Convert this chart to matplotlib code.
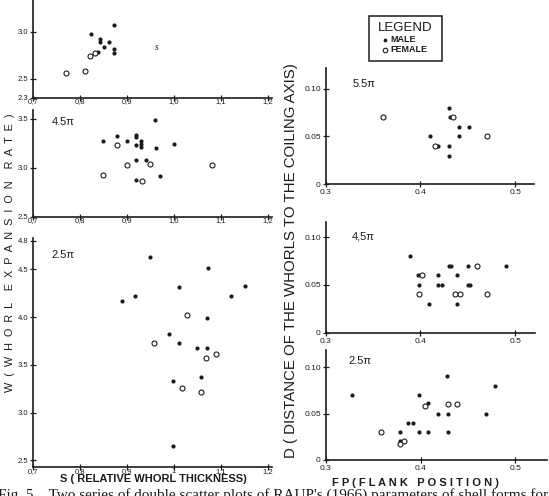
import matplotlib
matplotlib.use('Agg')
import matplotlib.pyplot as plt
from matplotlib.patches import Rectangle

W, H = 549, 496
plt.rcParams['font.family'] = ['Liberation Sans', 'DejaVu Sans']
fig = plt.figure(figsize=(W / 100, H / 100), dpi=100)
INK = '#1c1c1c'

# ---------------- data: S (relative whorl thickness) vs W (whorl expansion rate)
w55_male_S = [0.873, 0.823, 0.843, 0.843, 0.862, 0.852, 0.873, 0.873, 0.839]
w55_male_W = [3.07, 2.98, 2.93, 2.89, 2.89, 2.84, 2.82, 2.78, 2.79]
w55_female_S = [0.832, 0.822, 0.771, 0.811]
w55_female_W = [2.78, 2.74, 2.56, 2.58]

w45_male_S = [0.96, 0.848, 0.879, 0.899, 0.92, 0.92, 0.92, 0.93, 0.93, 0.93, 0.962, 1.0, 0.92, 0.94, 0.97, 0.92]
w45_male_W = [3.49, 3.27, 3.32, 3.27, 3.33, 3.31, 3.23, 3.27, 3.24, 3.21, 3.20, 3.24, 3.08, 3.08, 2.92, 2.88]
w45_female_S = [0.879, 0.899, 0.949, 0.848, 0.932, 1.081]
w45_female_W = [3.23, 3.03, 3.04, 2.93, 2.86, 3.03]

w25_male_S = [0.95, 1.072, 1.01, 1.152, 0.918, 0.89, 1.121, 1.071, 0.989, 1.011, 1.05, 1.071, 0.998, 1.057, 0.997]
w25_male_W = [4.63, 4.51, 4.31, 4.33, 4.22, 4.17, 4.22, 3.99, 3.82, 3.73, 3.68, 3.68, 3.33, 3.37, 2.65]
w25_female_S = [1.028, 0.958, 1.089, 1.069, 1.018, 1.058]
w25_female_W = [4.02, 3.73, 3.61, 3.57, 3.26, 3.22]

# ---------------- data: FP (flank position) vs D (distance to coiling axis)
d55_male_FP = [0.43, 0.431, 0.441, 0.451, 0.441, 0.41, 0.419, 0.43, 0.43]
d55_male_D = [0.08, 0.07, 0.06, 0.06, 0.05, 0.05, 0.04, 0.04, 0.03]
d55_female_FP = [0.361, 0.434, 0.47, 0.415]
d55_female_D = [0.07, 0.07, 0.05, 0.04]

d45_male_FP = [0.389, 0.397, 0.399, 0.409, 0.419, 0.419, 0.423, 0.43, 0.432, 0.439, 0.439, 0.45, 0.45, 0.452, 0.49]
d45_male_D = [0.08, 0.06, 0.05, 0.03, 0.06, 0.05, 0.05, 0.07, 0.07, 0.06, 0.03, 0.07, 0.05, 0.05, 0.07]
d45_female_FP = [0.402, 0.399, 0.437, 0.442, 0.46, 0.47]
d45_female_D = [0.06, 0.04, 0.04, 0.04, 0.07, 0.04]

d25_male_FP = [0.328, 0.428, 0.479, 0.398, 0.408, 0.418, 0.429, 0.469, 0.387, 0.392, 0.378, 0.398, 0.408, 0.429, 0.378]
d25_male_D = [0.07, 0.09, 0.08, 0.07, 0.061, 0.05, 0.05, 0.05, 0.04, 0.04, 0.03, 0.03, 0.03, 0.03, 0.02]
d25_female_FP = [0.405, 0.429, 0.438, 0.358, 0.383, 0.378]
d25_female_D = [0.058, 0.06, 0.06, 0.03, 0.02, 0.017]

s_ticks = [0.7, 0.8, 0.9, 1.0, 1.1, 1.2]
s_labels = ['0,7', '0,8', '0,9', '1,0', '1,1', '1,2']
s_labels_low = ['0,7', '0,8', '0,9', '1', '1,1', '1,2']
fp_ticks = [0.3, 0.4, 0.5]
fp_labels = ['0.3', '0.4', '0.5']
d_ticks = [0, 0.05, 0.10]
d_labels = ['0', '0.05', '0.10']


def add_axes(x0, y0, x1, y1):
    return fig.add_axes([x0 / W, 1 - y1 / H, (x1 - x0) / W, (y1 - y0) / H])


def style(ax, fs=5.5, xpad=1.5):
    for s in ('top', 'right'):
        ax.spines[s].set_visible(False)
    for s in ('left', 'bottom'):
        ax.spines[s].set_linewidth(1.2)
        ax.spines[s].set_color(INK)
    ax.tick_params(direction='inout', length=4, width=0.9, colors=INK,
                   labelsize=fs, pad=1.5)
    ax.tick_params(axis='x', pad=xpad)
    ax.patch.set_alpha(0)


def pts(ax, mx, my, fx, fy):
    m = ax.scatter(mx, my, s=9, c=INK, marker='o', linewidths=0, label='MALE', zorder=3)
    f = ax.scatter(fx, fy, s=13, facecolors='white', edgecolors=INK, marker='o',
                   linewidths=0.8, label='FEMALE', zorder=3)
    return m, f


# ---- left column
ax1 = add_axes(33, 0, 271.7, 97.8)
pts(ax1, w55_male_S, w55_male_W, w55_female_S, w55_female_W)
ax1.set_xlim(0.7, 1.208); ax1.set_ylim(2.3, 3.34)
ax1.set_yticks([2.3, 2.5, 3.0], ['2.3', '2.5', '3.0'])
ax1.set_xticks(s_ticks, s_labels)
ax1.text(0.964, 2.84, 's', fontsize=7, style='italic', family='Liberation Serif',
         color=INK, ha='center', va='center')
style(ax1, xpad=-1.5)

ax2 = add_axes(33, 110, 271.7, 216.7)
pts(ax2, w45_male_S, w45_male_W, w45_female_S, w45_female_W)
ax2.set_xlim(0.7, 1.208); ax2.set_ylim(2.5, 3.59)
ax2.set_yticks([2.5, 3.0, 3.5], ['2.5', '3.0', '3.5'])
ax2.set_xticks(s_ticks, s_labels)
ax2.text(0.74, 3.47, '4.5π', fontsize=8, color=INK, ha='left', va='center')
style(ax2, xpad=-1.5)

ax3 = add_axes(33, 238.3, 271.7, 467)
pts(ax3, w25_male_S, w25_male_W, w25_female_S, w25_female_W)
ax3.set_xlim(0.7, 1.208); ax3.set_ylim(2.43, 4.825)
ax3.set_yticks([2.5, 3.0, 3.5, 4.0, 4.5, 4.8], ['2.5', '3.0', '3.5', '4.0', '4.5', '4.8'])
ax3.set_xticks(s_ticks, s_labels_low)
ax3.text(0.74, 4.65, '2.5π', fontsize=8, color=INK, ha='left', va='center')
style(ax3, xpad=-1.5)

# ---- right column
r1 = add_axes(325.7, 68.3, 534, 184.3)
hm, hf = pts(r1, d55_male_FP, d55_male_D, d55_female_FP, d55_female_D)
r1.set_xlim(0.3, 0.52); r1.set_ylim(0, 0.1213)
r1.text(0.328, 0.105, '5.5π', fontsize=8, color=INK, ha='left', va='center')
r2 = add_axes(325.7, 221.7, 535, 332.7)
pts(r2, d45_male_FP, d45_male_D, d45_female_FP, d45_female_D)
r2.set_xlim(0.3, 0.521); r2.set_ylim(0, 0.116)
r2.text(0.328, 0.101, '4,5π', fontsize=8, color=INK, ha='left', va='center')
r3 = add_axes(325.7, 350, 546.7, 460)
pts(r3, d25_male_FP, d25_male_D, d25_female_FP, d25_female_D)
r3.set_xlim(0.3, 0.533); r3.set_ylim(0, 0.1185)
r3.text(0.3235, 0.1067, '2.5π', fontsize=8, color=INK, ha='left', va='center')
for ax in (r1, r2, r3):
    ax.set_xticks(fp_ticks, fp_labels)
    ax.set_yticks(d_ticks, d_labels)
    style(ax, fs=6)

# legend: frame drawn as a figure rectangle, entries from a real legend
bx0, by0, bx1, by1 = 369, 15.7, 441.5, 61
fig.patches.append(Rectangle((bx0 / W, 1 - by1 / H), (bx1 - bx0) / W, (by1 - by0) / H,
                             transform=fig.transFigure, fill=False, edgecolor=INK,
                             linewidth=1.1, zorder=5))
leg = fig.legend(handles=[hm, hf], labels=['MALE', 'FEMALE'], title='LEGEND',
                 loc='center', bbox_to_anchor=((bx0 + bx1) / 2 / W, 1 - (by0 + by1) / 2 / H),
                 bbox_transform=fig.transFigure, borderaxespad=0,
                 fontsize=6.5, title_fontsize=9.5, frameon=False,
                 handlelength=0.6, handletextpad=0.3, borderpad=0.3,
                 labelspacing=0.1, markerscale=0.9)
leg.get_title().set_color(INK)
for t in leg.get_texts():
    t.set_color(INK)
    t.set_fontweight('bold')

# ---- axis titles
fig.text(10 / W, 1 - 253 / H,
         'W  (  W  H  O  R  L    E  X  P  A  N  S  I  O  N    R  A  T  E  )',
         rotation=90, fontsize=7.8, color=INK, ha='center', va='center')
fig.text(291 / W, 1 - 261 / H, 'D ( DISTANCE OF THE WHORLS TO THE COILING AXIS)',
         rotation=90, fontsize=10.8, color=INK, ha='center', va='center')
fig.text(153 / W, 1 - 479.5 / H, 'S ( RELATIVE WHORL THICKNESS)',
         fontsize=8, fontweight='bold', color=INK, ha='center', va='center')
fig.text(415 / W, 1 - 483 / H, 'F P ( F L A N K   P O S I T I O N )',
         fontsize=8, fontweight='bold', color=INK, ha='center', va='center')
fig.text(-2 / W, 1 - 488 / H,
         "Fig. 5.   Two series of double scatter plots of RAUP's (1966) parameters of shell forms for each",
         fontsize=11, family='Liberation Serif', color=INK, ha='left', va='top')

fig.savefig('out.png', dpi=100)
